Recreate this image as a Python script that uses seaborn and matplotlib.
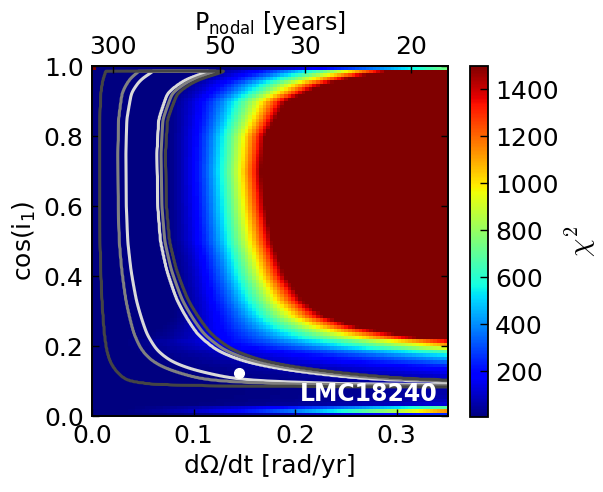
import numpy as np
import pandas as pd
import matplotlib
matplotlib.use("Agg")
import matplotlib.pyplot as plt
import seaborn as sns

# ---------------- data ----------------
# chi^2 map, per cos(i1) row: dOmega/dt where chi^2 reaches 1500 (red edge;
# values beyond 0.35 extrapolated from the colour at the right edge) and the
# dOmega/dt where chi^2 starts to rise above ~0
cos_i_rows = [0.005, 0.015, 0.025, 0.035, 0.06, 0.08, 0.10, 0.125, 0.144, 0.158,
              0.171, 0.183, 0.193, 0.203, 0.213, 0.226, 0.254, 0.283, 0.33, 0.40,
              0.46, 0.50, 0.60, 0.70, 0.80, 0.90, 0.95, 0.97, 0.985, 0.995]
chi2_red_edge_x = [0.857, 0.40, 0.512, 1.24, 1.75, 1.75, 1.52, 1.107, 0.857, 0.695,
                   0.606, 0.532, 0.452, 0.409, 0.376, 0.315, 0.263, 0.23, 0.207, 0.19,
                   0.182, 0.177, 0.170, 0.166, 0.170, 0.191, 0.23, 0.26, 0.289, 0.454]
chi2_onset_x = [0, 0, 0, 0, 0, 0, 0, 0, 0, 0,
                0, 0, 0, 0, 0, 0.03, 0.05, 0.065, 0.07, 0.07,
                0.068, 0.065, 0.065, 0.065, 0.065, 0.062, 0.07, 0.08, 0.09, 0.10]
chi2_red = 1500.0
corner_cell_chi2 = 1500.0   # single saturated cell at the top-left corner

# contour lines: x of the innermost right-hand (light) contour vs cos(i1)
contour_cos = [0.097, 0.103, 0.124, 0.131, 0.158, 0.189, 0.235, 0.331, 0.42, 0.50,
               0.60, 0.75, 0.846, 0.922, 0.96, 0.979, 0.99]
contour_x_right = [0.331, 0.286, 0.217, 0.196, 0.149, 0.123, 0.104, 0.084, 0.0735,
                   0.0676, 0.0649, 0.0641, 0.0658, 0.0746, 0.092, 0.111, 0.121]
contour_asymptote_cos = 0.082
contour_top_cos = 0.985
# relative positions of the contour lines (light, grey, dark) on each side
contour_left_rel = [0.52, 0.40, 0.12]
contour_right_rel = [1.0, 1.06, 1.125]

best_fit = (0.145, 0.123)
label_text = "LMC18240"
x_ticks = [0.0, 0.1, 0.2, 0.3]
y_ticks = [0.0, 0.2, 0.4, 0.6, 0.8, 1.0]
p_ticks = [300, 50, 30, 20]
cbar_ticks = [200, 400, 600, 800, 1000, 1200, 1400]

# ---------------- grid ----------------
x_max = 0.35
nx, nc = 100, 100
dx, dc = x_max / nx, 1.0 / nc
xc = (np.arange(nx) + 0.5) * dx
cc = (np.arange(nc) + 0.5) * dc

x_red = np.interp(cc, cos_i_rows, chi2_red_edge_x)[:, None]
x_on = np.interp(cc, cos_i_rows, chi2_onset_x)[:, None]
X, C = np.meshgrid(xc, cc)
chi2 = chi2_red * (np.clip(X - x_on, 0, None) / (x_red - x_on)) ** 2
chi2[-1, 0] = corner_cell_chi2
df = pd.DataFrame(chi2, index=np.round(cc, 3), columns=np.round(xc, 4))

# contour field on a finer grid
xf = np.linspace(0.0005, x_max, 400)
cf = np.linspace(0.0, 1.0, 401)
g_c = np.concatenate([[contour_asymptote_cos], contour_cos])
g_v = np.concatenate([[0.0], 1.0 / np.array(contour_x_right)])
g = np.where(cf < contour_asymptote_cos, 0.0, np.interp(cf, g_c, g_v))
# light smoothing of the piecewise-linear profile
k = np.exp(-0.5 * (np.arange(-8, 9) / 3.0) ** 2)
k /= k.sum()
gp = np.pad(g, 8, mode='edge')
gs = np.convolve(gp, k, mode='same')[8:-8]
gs = np.where(cf < contour_asymptote_cos + 0.012, g, gs)
XF, CF = np.meshgrid(xf, cf)
U = np.clip(XF * gs[:, None], 1e-6, None)
centre = np.sqrt(contour_left_rel[0] * contour_right_rel[0])
knots_u = [1e-6] + contour_left_rel[::-1] + [centre] + contour_right_rel + [50.0]
knots_f = [4, 3, 2, 1, 0, 1, 2, 3, 10]
F = np.interp(np.log(U), np.log(knots_u), knots_f)
F[cf > contour_top_cos, :] = 10.0

# ---------------- figure ----------------
plt.rcParams['font.family'] = ['DejaVu Sans']
plt.rcParams['mathtext.fontset'] = 'dejavusans'
W, H = 603, 492
fig = plt.figure(figsize=(W / 100, H / 100), dpi=100)
ax = fig.add_axes([92 / W, 1 - 416 / H, (447.5 - 92) / W, 350 / H])
cax = fig.add_axes([470 / W, 1 - 417 / H, 18 / W, 351 / H])

sns.heatmap(df, ax=ax, cmap='jet', vmin=5, vmax=1500, cbar_ax=cax,
            xticklabels=False, yticklabels=False, linewidths=0,
            cbar_kws={'ticks': cbar_ticks})
ax.set_xlim(0, nx)
ax.set_ylim(0, nc)
for s in ax.spines.values():
    s.set_visible(True)
    s.set_linewidth(1.3)
    s.set_color('black')

ax.contour(XF / dx, CF / dc, F, levels=[1, 2, 3],
           colors=['0.85', '0.5', '0.27'], linewidths=2.2)
ax.plot(best_fit[0] / dx, best_fit[1] / dc, 'o', color='white', ms=7, mec='white')
ax.text(0.34 / dx, 0.063 / dc, label_text, color='white', fontweight='bold',
        fontsize=17, ha='right', va='center')

ax.set_xticks(np.array(x_ticks) / dx)
ax.set_xticklabels([f"{v:.1f}" for v in x_ticks], rotation=0)
ax.set_yticks(np.array(y_ticks) / dc)
ax.set_yticklabels([f"{v:.1f}" for v in y_ticks], rotation=0)
ax.tick_params(direction='in', length=5, width=1, labelsize=18, pad=6,
               top=False, right=True, left=True, bottom=True, colors='black')
ax.set_xlabel('dΩ/dt [rad/yr]', fontsize=18, labelpad=4)
ax.set_ylabel('cos(i$_1$)', fontsize=18, labelpad=4)

ax2 = ax.twiny()
ax2.set_xlim(ax.get_xlim())
ax2.set_xticks([2 * np.pi / p / dx for p in p_ticks])
ax2.set_xticklabels([str(p) for p in p_ticks])
ax2.tick_params(direction='in', length=5, width=1, labelsize=18, pad=5)
ax2.set_xlabel('P$_{\\rm nodal}$ [years]', fontsize=17, labelpad=4)
for s in ax2.spines.values():
    s.set_linewidth(1.3)

cb = ax.collections[0].colorbar
cb.outline.set_linewidth(1.3)
cb.outline.set_edgecolor('black')
cb.ax.tick_params(direction='in', length=6, width=1, labelsize=18, pad=5)
cb.set_label(r'$\chi^2$', fontsize=21, math_fontfamily='cm', labelpad=3)

fig.savefig('out.png', dpi=100)
